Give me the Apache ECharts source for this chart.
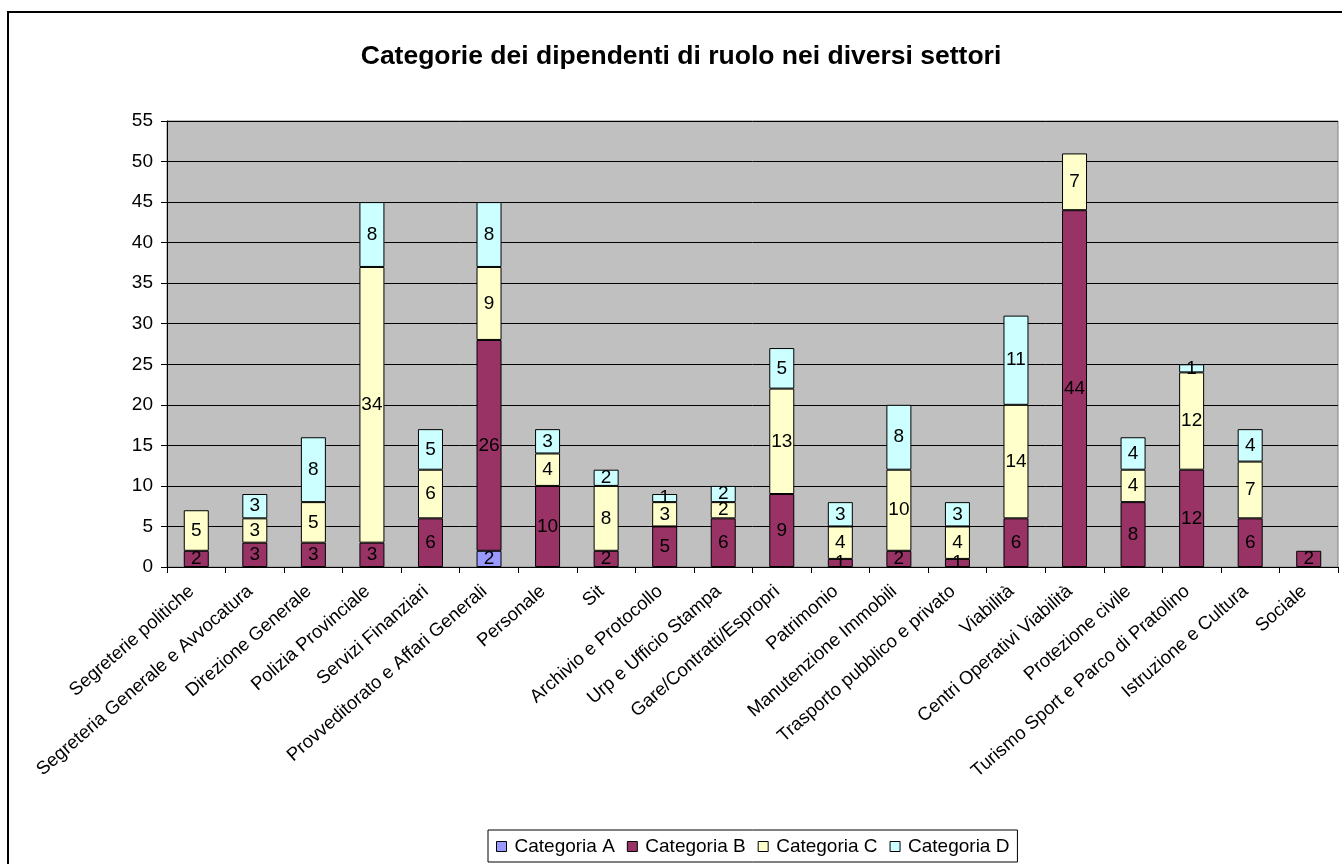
<!DOCTYPE html>
<html>
<head>
<meta charset="utf-8">
<script src="https://cdn.jsdelivr.net/npm/echarts@6/dist/echarts.min.js"></script>
<style>
  html, body { margin: 0; padding: 0; background: #fff; }
  #chart { width: 1342px; height: 864px; }
</style>
</head>
<body>
<div id="chart"></div>
<script>
// Settori
const categories = [
  'Segreterie politiche',
  'Segreteria Generale e Avvocatura',
  'Direzione Generale',
  'Polizia Provinciale',
  'Servizi Finanziari',
  'Provveditorato e Affari Generali',
  'Personale',
  'Sit',
  'Archivio e Protocollo',
  'Urp e Ufficio Stampa',
  'Gare/Contratti/Espropri',
  'Patrimonio',
  'Manutenzione Immobili',
  'Trasporto pubblico e privato',
  'Viabilità',
  'Centri Operativi Viabilità',
  'Protezione civile',
  'Turismo Sport e Parco di Pratolino',
  'Istruzione e Cultura',
  'Sociale'
];

// Dipendenti per categoria (null = nessuno)
const categoriaA = [null, null, null, null, null, 2, null, null, null, null, null, null, null, null, null, null, null, null, null, null];
const categoriaB = [2, 3, 3, 3, 6, 26, 10, 2, 5, 6, 9, 1, 2, 1, 6, 44, 8, 12, 6, 2];
const categoriaC = [5, 3, 5, 34, 6, 9, 4, 8, 3, 2, 13, 4, 10, 4, 14, 7, 4, 12, 7, null];
const categoriaD = [null, 3, 8, 8, 5, 8, 3, 2, 1, 2, 5, 3, 8, 3, 11, null, 4, 1, 4, null];

const seriesNames = ['Categoria A', 'Categoria B', 'Categoria C', 'Categoria D'];
const seriesColors = ['#9999FF', '#993366', '#FFFFCC', '#CCFFFF'];
const seriesData = [categoriaA, categoriaB, categoriaC, categoriaD];

const chart = echarts.init(document.getElementById('chart'), null, { renderer: 'canvas' });

const font = 'Arial, "Liberation Sans", sans-serif';

const option = {
  animation: false,
  backgroundColor: '#ffffff',
  textStyle: { fontFamily: font },
  title: {
    text: 'Categorie dei dipendenti di ruolo nei diversi settori',
    left: 676,
    textAlign: 'center',
    top: 38,
    textStyle: { fontFamily: font, fontSize: 26.5, fontWeight: 'bold', color: '#000' }
  },
  graphic: [{
    type: 'rect',
    shape: { x: 8, y: 12, width: 1400, height: 900 },
    style: { fill: 'none', stroke: '#000', lineWidth: 2 },
    silent: true,
    z: 100
  }],
  legend: {
    data: seriesNames,
    left: 488,
    top: 830,
    itemGap: 12,
    itemWidth: 10,
    itemHeight: 10,
    padding: [7, 8, 6, 8],
    borderColor: '#000',
    borderWidth: 1,
    icon: 'rect',
    itemStyle: { borderColor: '#000', borderWidth: 1 },
    textStyle: { fontFamily: font, fontSize: 19, color: '#000', padding: [0, 0, 0, 3] }
  },
  grid: {
    left: 167,
    right: 4,
    top: 121,
    bottom: 297,
    show: true,
    backgroundColor: '#C0C0C0',
    borderColor: '#808080',
    borderWidth: 1
  },
  xAxis: {
    type: 'category',
    data: categories,
    boundaryGap: true,
    axisLine: { lineStyle: { color: '#000', width: 1 } },
    axisTick: { show: true, length: 6, lineStyle: { color: '#000' } },
    axisLabel: {
      rotate: 41,
      interval: 0,
      margin: 18,
      padding: [0, 6, 0, 0],
      fontFamily: font,
      fontSize: 18.5,
      color: '#000'
    },
    splitLine: { show: false }
  },
  yAxis: {
    type: 'value',
    min: 0,
    max: 55,
    interval: 5,
    axisLine: { show: true, lineStyle: { color: '#000', width: 1 } },
    axisTick: { show: true, length: 6, lineStyle: { color: '#000' } },
    axisLabel: { fontFamily: font, fontSize: 19, color: '#000', margin: 14 },
    splitLine: { show: true, lineStyle: { color: '#000', width: 1 } }
  },
  series: seriesNames.map((name, i) => ({
    name: name,
    type: 'bar',
    stack: 'totale',
    barWidth: 25,
    data: seriesData[i],
    itemStyle: { color: seriesColors[i], borderColor: '#000', borderWidth: 1 },
    label: {
      show: true,
      position: 'inside',
      fontFamily: font,
      fontSize: 19,
      color: '#000',
      formatter: p => (p.value == null ? '' : String(p.value))
    }
  }))
};

chart.setOption(option);
</script>
</body>
</html>
